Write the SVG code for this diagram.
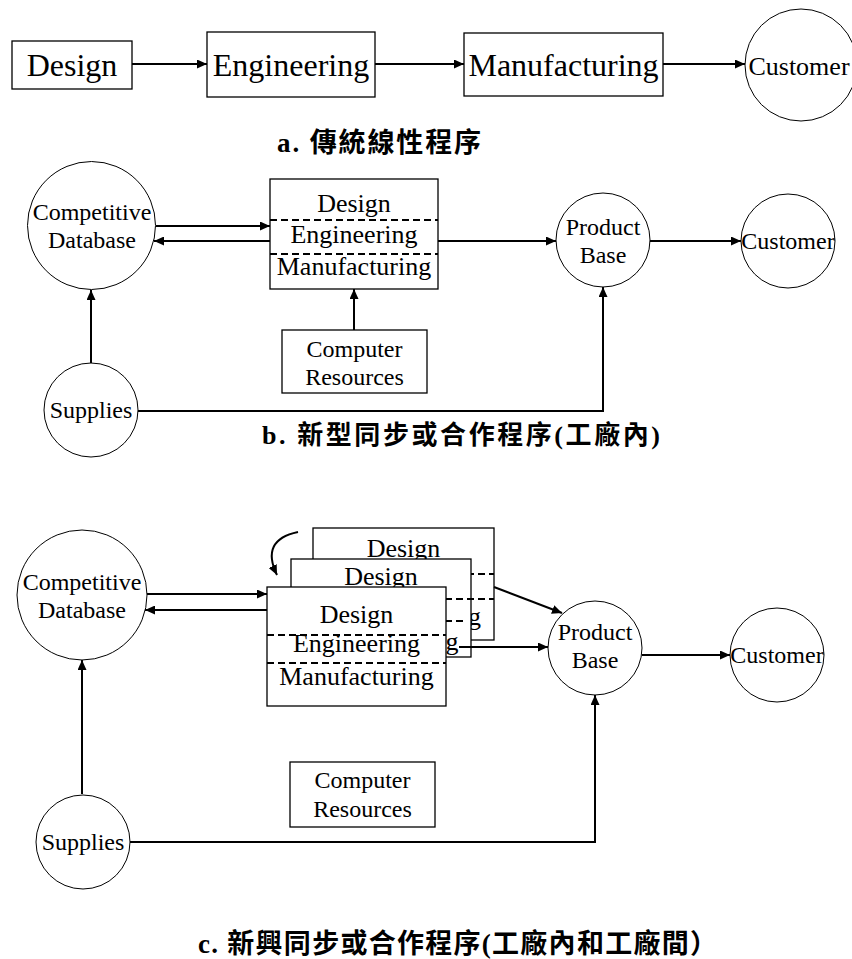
<svg xmlns="http://www.w3.org/2000/svg" width="852" height="959" viewBox="0 0 852 959">
<style>
.box{fill:#fff;stroke:#000;stroke-width:1.3}
.node{fill:#fff;stroke:#000;stroke-width:1}
.dash{stroke:#000;stroke-width:2;stroke-dasharray:7 4;fill:none}
.t{font-family:"Liberation Serif","Times New Roman",serif;text-anchor:middle;fill:#000}
.ts{font-family:"Liberation Serif","Times New Roman",serif;text-anchor:start;fill:#000}
.big{font-size:32px}
.mid{font-size:26px}
.sm{font-size:24px}
.cap{font-family:"Liberation Serif","Noto Sans CJK TC",serif;font-weight:bold;fill:#000}
.arr{stroke:#000;stroke-width:2;fill:none;marker-end:url(#ah)}
</style>
<defs>
<marker id="ah" markerUnits="userSpaceOnUse" markerWidth="11" markerHeight="9" refX="10" refY="4.5" orient="auto">
<path d="M0,0 L10,4.5 L0,9 z" fill="#000"/>
</marker>
</defs>
<rect width="852" height="959" fill="#fff"/>

<!-- Part a -->
<g id="a-design"><rect class="box" x="12" y="41" width="120" height="48"/><text class="t big" x="72" y="76">Design</text></g>
<g id="a-engineering"><rect class="box" x="207" y="32" width="168" height="65"/><text class="t big" x="291" y="76">Engineering</text></g>
<g id="a-manufacturing"><rect class="box" x="464" y="33" width="199" height="63"/><text class="t big" x="563.5" y="76">Manufacturing</text></g>
<g id="a-customer"><circle class="node" cx="801" cy="65" r="56"/><text class="t mid" x="799" y="75">Customer</text></g>
<g id="a-caption"><text class="cap" x="277" y="152" font-size="27" textLength="204" lengthAdjust="spacing">a. 傳統線性程序</text></g>

<!-- Part b -->
<g id="b-competitive"><circle class="node" cx="91.5" cy="225.5" r="64"/><text class="t sm" x="92" y="220">Competitive</text><text class="t sm" x="92" y="248">Database</text></g>
<g id="b-dem"><rect class="box" x="270" y="179" width="168" height="110"/><line class="dash" x1="270" y1="220" x2="438" y2="220"/><line class="dash" x1="270" y1="254" x2="438" y2="254"/><text class="t mid" x="354" y="212">Design</text><text class="t mid" x="354" y="243">Engineering</text><text class="t mid" x="354" y="275">Manufacturing</text></g>
<g id="b-computer"><rect class="box" x="282" y="330" width="145" height="63"/><text class="t sm" x="354.5" y="357">Computer</text><text class="t sm" x="354.5" y="385">Resources</text></g>
<g id="b-supplies"><circle class="node" cx="91" cy="410" r="47"/><text class="t sm" x="91" y="418">Supplies</text></g>
<g id="b-product"><circle class="node" cx="603" cy="240" r="47"/><text class="t sm" x="603" y="235">Product</text><text class="t sm" x="603" y="263">Base</text></g>
<g id="b-customer"><circle class="node" cx="788" cy="241" r="47"/><text class="t sm" x="788" y="249">Customer</text></g>
<g id="b-caption"><text class="cap" x="262" y="444" font-size="26" textLength="398" lengthAdjust="spacing">b. 新型同步或合作程序(工廠內)</text></g>

<!-- Part c -->
<g id="c-competitive"><circle class="node" cx="82" cy="595" r="65"/><text class="t sm" x="82" y="590">Competitive</text><text class="t sm" x="82" y="618">Database</text></g>
<g id="c-dem-back"><rect class="box" x="313" y="528" width="181" height="112"/><line class="dash" x1="313" y1="574" x2="494" y2="574"/><line class="dash" x1="313" y1="599" x2="494" y2="599"/><text class="t mid" x="403.5" y="557">Design</text><text class="ts mid" x="468" y="625">g</text></g>
<g id="c-dem-middle"><rect class="box" x="291" y="559" width="180" height="98"/><line class="dash" x1="291" y1="599" x2="471" y2="599"/><line class="dash" x1="291" y1="621" x2="467" y2="621"/><text class="t mid" x="381" y="585">Design</text><text class="ts mid" x="445.5" y="650">g</text></g>
<g id="c-dem-front"><rect class="box" x="267" y="587" width="179" height="119"/><line class="dash" x1="267" y1="635" x2="446" y2="635"/><line class="dash" x1="267" y1="663" x2="446" y2="663"/><text class="t mid" x="356.5" y="623">Design</text><text class="t mid" x="356.5" y="652">Engineering</text><text class="t mid" x="356.5" y="685">Manufacturing</text></g>
<g id="c-computer"><rect class="box" x="290" y="762" width="145" height="65"/><text class="t sm" x="362.5" y="788">Computer</text><text class="t sm" x="362.5" y="817">Resources</text></g>
<g id="c-supplies"><circle class="node" cx="83" cy="842" r="47"/><text class="t sm" x="83" y="850">Supplies</text></g>
<g id="c-product"><circle class="node" cx="595" cy="648" r="47"/><text class="t sm" x="595" y="640">Product</text><text class="t sm" x="595" y="668">Base</text></g>
<g id="c-customer"><circle class="node" cx="777" cy="655" r="47"/><text class="t sm" x="777" y="663">Customer</text></g>
<g id="c-caption"><text class="cap" x="198" y="953" font-size="27" textLength="519" lengthAdjust="spacing">c. 新興同步或合作程序(工廠內和工廠間）</text></g>

<!-- Connectors -->
<g id="connectors">
<path class="arr" d="M132 64 H207"/>
<path class="arr" d="M375 64 H464"/>
<path class="arr" d="M663 64 H745"/>

<path class="arr" d="M156 226 H270"/>
<path class="arr" d="M270 241 H154"/>
<path class="arr" d="M354 330 V289"/>
<path class="arr" d="M91 363 V290"/>
<path class="arr" d="M138 411 H603 V287"/>
<path class="arr" d="M438 241 H556"/>
<path class="arr" d="M650 241 H741"/>

<path class="arr" d="M147 594 H267"/>
<path class="arr" d="M267 610 H145"/>
<path class="arr" d="M82 794 V660"/>
<path class="arr" d="M130 842 H595 V695"/>
<path class="arr" d="M459 647 H548"/>
<path class="arr" d="M494 587 L562 613"/>
<path class="arr" d="M642 655 H730"/>
<path class="arr" d="M298 532 Q260 540 277 575"/>
</g>
</svg>
